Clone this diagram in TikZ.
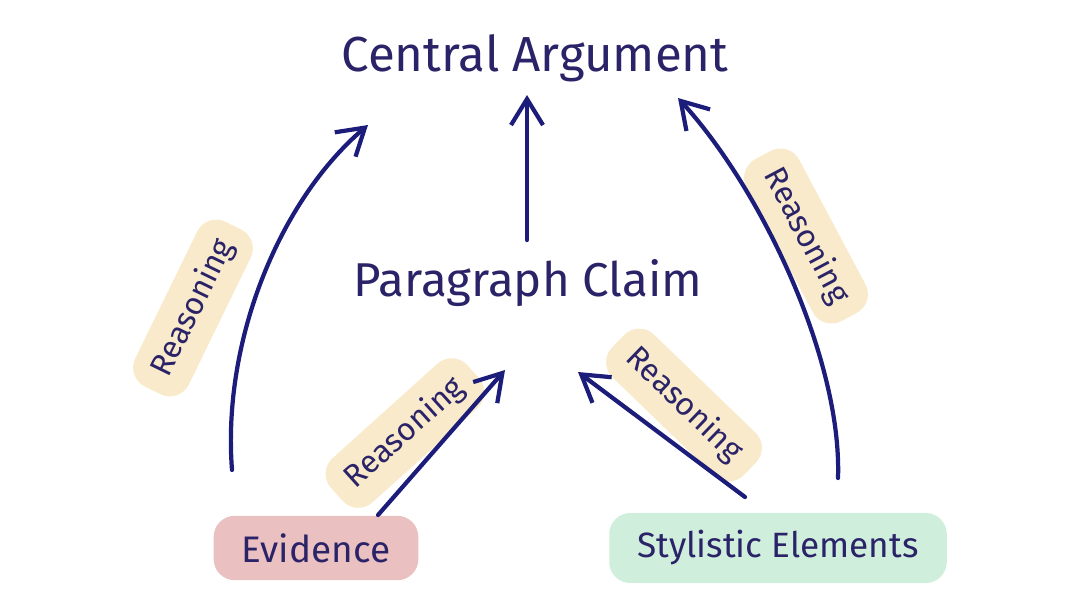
\documentclass[tikz,border=0pt]{standalone}
\usepackage{fontspec}
\setmainfont{Fira Sans}
\usetikzlibrary{arrows.meta, positioning, calc}
\definecolor{inkblue}{HTML}{1C1C7A}
\definecolor{inktext}{HTML}{2A2368}
\definecolor{hiyellow}{HTML}{F8EACA}
\definecolor{hipink}{HTML}{EBC0C0}
\definecolor{higreen}{HTML}{D0EEDC}

\begin{document}
\begin{tikzpicture}[
    x=0.01cm, y=-0.01cm,
    title/.style={text=inktext, font=\fontsize{#1}{#1}\selectfont},
    tag/.style={fill=#1, text=inktext, rounded corners=6pt, inner xsep=8pt, inner ysep=5pt, font=\fontsize{10.5}{12}\selectfont},
    why/.style={fill=hiyellow, text=inktext, rounded corners=6pt, inner xsep=5pt, inner ysep=4pt, font=\fontsize{9}{11}\selectfont},
    arr/.style={-{Straight Barb[length=2.6mm, width=3.2mm]}, line width=1.2pt, draw=inkblue, line cap=round},
  ]
  \useasboundingbox (0,0) rectangle (1080,608);

  % Nodes
  \node[title=14] (central) at (535,58) {Central Argument};
  \node[title=13.5] (claim) at (528,283) {Paragraph Claim};
  \node[tag=hipink] (evidence) at (316,548) {Evidence};
  \node[tag=higreen, font=\fontsize{10}{12}\selectfont] (style) at (778,548) {Stylistic Elements};

  % Reasoning labels (highlights under the arrows)
  \node[why, rotate=64] (whyL) at (193,308) {Reasoning};
  \node[why, rotate=42] (whyEv) at (405,433) {Reasoning};
  \node[why, rotate=-44] (whySt) at (684,405) {Reasoning};
  \node[why, rotate=-62] (whyR) at (806,236) {Reasoning};

  % Free ends of the arrows
  \coordinate (evL) at (232,470);
  \coordinate (evR) at (378,515);
  \coordinate (stL) at (745,497);
  \coordinate (stR) at (838,478);
  \coordinate (clTop) at (527,240);
  \coordinate (clL) at (505,370);
  \coordinate (clR) at (578,372);
  \coordinate (ceL) at (368,125);
  \coordinate (ceM) at (527,95);
  \coordinate (ceR) at (678,98);

  % Arrows
  \draw[arr] (evL) .. controls (222,340) and (280,200) .. (ceL);
  \draw[arr] (clTop) -- (ceM);
  \draw[arr] (evR) -- (clL);
  \draw[arr] (stL) -- (clR);
  \draw[arr] (stR) .. controls (842,360) and (762,190) .. (ceR);
\end{tikzpicture}
\end{document}
